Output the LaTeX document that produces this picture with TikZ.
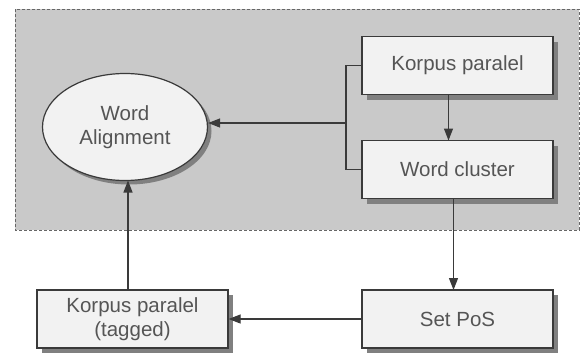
\documentclass[tikz,border=0pt]{standalone}
\usepackage{fontspec}
\setmainfont{Liberation Sans}
\usetikzlibrary{arrows.meta,shapes.geometric,shadows,calc}
\definecolor{bgray}{HTML}{C9C9C9}
\definecolor{boxfill}{HTML}{F2F2F2}
\definecolor{txt}{HTML}{555555}
\definecolor{edge}{HTML}{3A3A3A}
\tikzset{
  stepbox/.style={draw=edge, line width=1.2pt, fill=boxfill, text=txt, inner sep=0pt,
    minimum width=191pt, minimum height=58pt, align=center,
    font=\fontsize{20.5}{24}\selectfont,
    drop shadow={shadow xshift=5pt, shadow yshift=-5pt, fill=black!50, opacity=1}},
  ovalnode/.style={ellipse, draw=edge, line width=1.2pt, fill=boxfill, text=txt, inner sep=0pt,
    minimum width=165pt, minimum height=107pt, align=center,
    font=\fontsize{20.5}{24}\selectfont,
    drop shadow={shadow xshift=4pt, shadow yshift=-4pt, fill=black!50, opacity=1}},
  conn/.style={draw=edge, line width=1.2pt},
  arr/.style={conn, -{Triangle[length=12pt, width=9pt]}}
}
\begin{document}
\begin{tikzpicture}[x=1pt,y=-1pt]
\useasboundingbox (0,0) rectangle (580,354);
\fill[white] (0,0) rectangle (580,354);
\draw[fill=bgray, draw=black!60, densely dashed, line width=0.6pt] (15,9) rectangle (579,230);
\node[stepbox] (kp) at (457.5,65.5) {Korpus paralel};
\node[stepbox] (wc) at (457.5,169.5) {Word cluster};
\node[ovalnode] (wa) at (125,127) {Word\\Alignment};
\node[stepbox] (sp) at (457.5,319) {Set PoS};
\node[stepbox] (kt) at (132.5,319) {Korpus paralel\\(tagged)};
\coordinate (bt) at (346,65.5);
\coordinate (bb) at (346,169.5);
\coordinate (bm) at (346,123);
\coordinate (ktn) at (128,290);
\coordinate (was) at (128,180.5);
\coordinate (kps) at (448.5,94.5);
\coordinate (wcn) at (448.5,140.5);
\coordinate (wcs) at (453.5,198.5);
\coordinate (spn) at (453.5,290);
\draw[conn] (kp.west) -- (bt) -- (bb) -- (wc.west);
\draw[arr] (bm) -- (bm -| wa.east);
\draw[arr] (kps) -- (wcn);
\draw[arr] (wcs) -- (spn);
\draw[arr] (sp.west) -- (kt.east);
\draw[arr] (ktn) -- (was);
\end{tikzpicture}
\end{document}
